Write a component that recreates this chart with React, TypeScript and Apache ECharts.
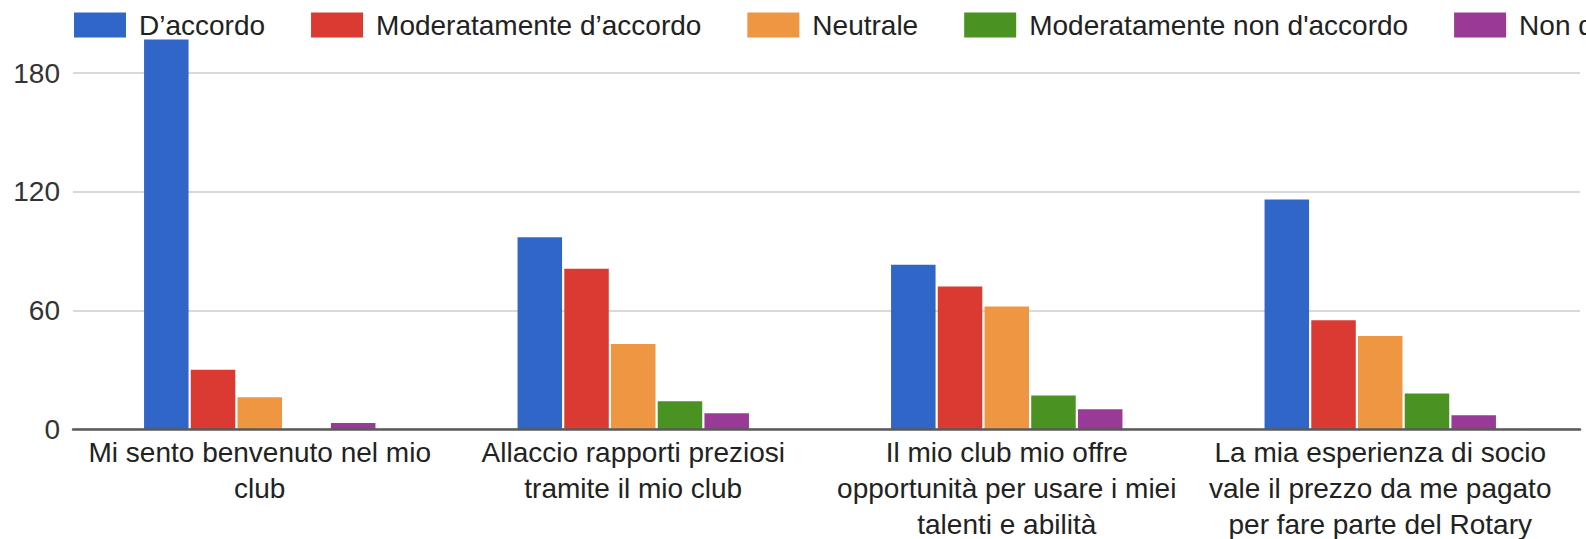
import { useEffect, useRef } from "react";
import * as echarts from "echarts";

const categories = [
  "Mi sento benvenuto nel mio\nclub",
  "Allaccio rapporti preziosi\ntramite il mio club",
  "Il mio club mio offre\nopportunità per usare i miei\ntalenti e abilità",
  "La mia esperienza di socio\nvale il prezzo da me pagato\nper fare parte del Rotary",
];
const seriesNames = [
  "D’accordo",
  "Moderatamente d’accordo",
  "Neutrale",
  "Moderatamente non d'accordo",
  "Non d'accordo",
];
const daccordo = [197, 97, 83, 116];
const moderatamenteDaccordo = [30, 81, 72, 55];
const neutrale = [16, 43, 62, 47];
const moderatamenteNonDaccordo = [0, 14, 17, 18];
const nonDaccordo = [3, 8, 10, 7];
const seriesValues = [daccordo, moderatamenteDaccordo, neutrale, moderatamenteNonDaccordo, nonDaccordo];
const colors = ["#3166c9", "#da3a31", "#ef9642", "#4a9323", "#993a97"];
const yMin = 0;
const yMax = 200;
const yInterval = 60;

const FONT = "'Liberation Sans', Arial, Helvetica, sans-serif";

export default function App() {
  const ref = useRef<HTMLDivElement>(null);
  useEffect(() => {
    if (!ref.current) return;
    const chart = echarts.init(ref.current, null, { renderer: "svg" });
    const top = 33.5;
    const bottom = 110;
    chart.setOption({
      animation: false,
      textStyle: { fontFamily: FONT },
      legend: {
        left: 74,
        top: 11,
        padding: 0,
        width: 3000,
        itemWidth: 52,
        itemHeight: 25,
        itemGap: 46,
        icon: "rect",
        textStyle: {
          fontSize: 28,
          color: "#222",
          fontFamily: FONT,
          lineHeight: 28,
          padding: [0, 0, 0, 8],
        },
        data: seriesNames,
      },
      grid: [
        { left: 73, right: 6, top, bottom, containLabel: false, outerBoundsMode: "none" },
        { left: 73, right: 19, top, bottom, containLabel: false, outerBoundsMode: "none" },
      ],
      xAxis: [
        {
          gridIndex: 0,
          type: "value",
          min: 0,
          max: 1,
          z: 5,
          axisLine: { show: true, lineStyle: { color: "#5a5a5a", width: 2.5 } },
          axisTick: { show: false },
          axisLabel: { show: false },
          splitLine: { show: false },
        },
        {
          gridIndex: 1,
          type: "category",
          data: categories,
          axisLine: { show: false },
          axisTick: { show: false },
          axisLabel: {
            fontSize: 28,
            lineHeight: 36,
            color: "#222",
            margin: 5,
            interval: 0,
            fontFamily: FONT,
            align: "center",
          },
        },
      ],
      yAxis: [
        {
          gridIndex: 0,
          type: "value",
          min: yMin,
          max: yMax,
          interval: yInterval,
          axisLine: { show: false },
          axisTick: { show: false },
          axisLabel: {
            fontSize: 28,
            color: "#333",
            margin: 13,
            fontFamily: FONT,
            showMaxLabel: false,
          },
          splitLine: {
            show: true,
            showMaxLine: false,
            lineStyle: { color: "#d9d9d9", width: 2 },
          },
        },
        {
          gridIndex: 1,
          type: "value",
          min: yMin,
          max: yMax,
          interval: yInterval,
          show: false,
          splitLine: { show: false },
        },
      ],
      series: seriesNames.map((name, i) => ({
        name,
        type: "bar",
        xAxisIndex: 1,
        yAxisIndex: 1,
        data: seriesValues[i],
        barWidth: 44.5,
        barGap: "5%",
        itemStyle: { color: colors[i] },
      })),
    });
    return () => chart.dispose();
  }, []);
  return (
    <div
      ref={ref}
      style={{ position: "fixed", left: 0, top: 0, width: 1586, height: 539, background: "#fff" }}
    />
  );
}
